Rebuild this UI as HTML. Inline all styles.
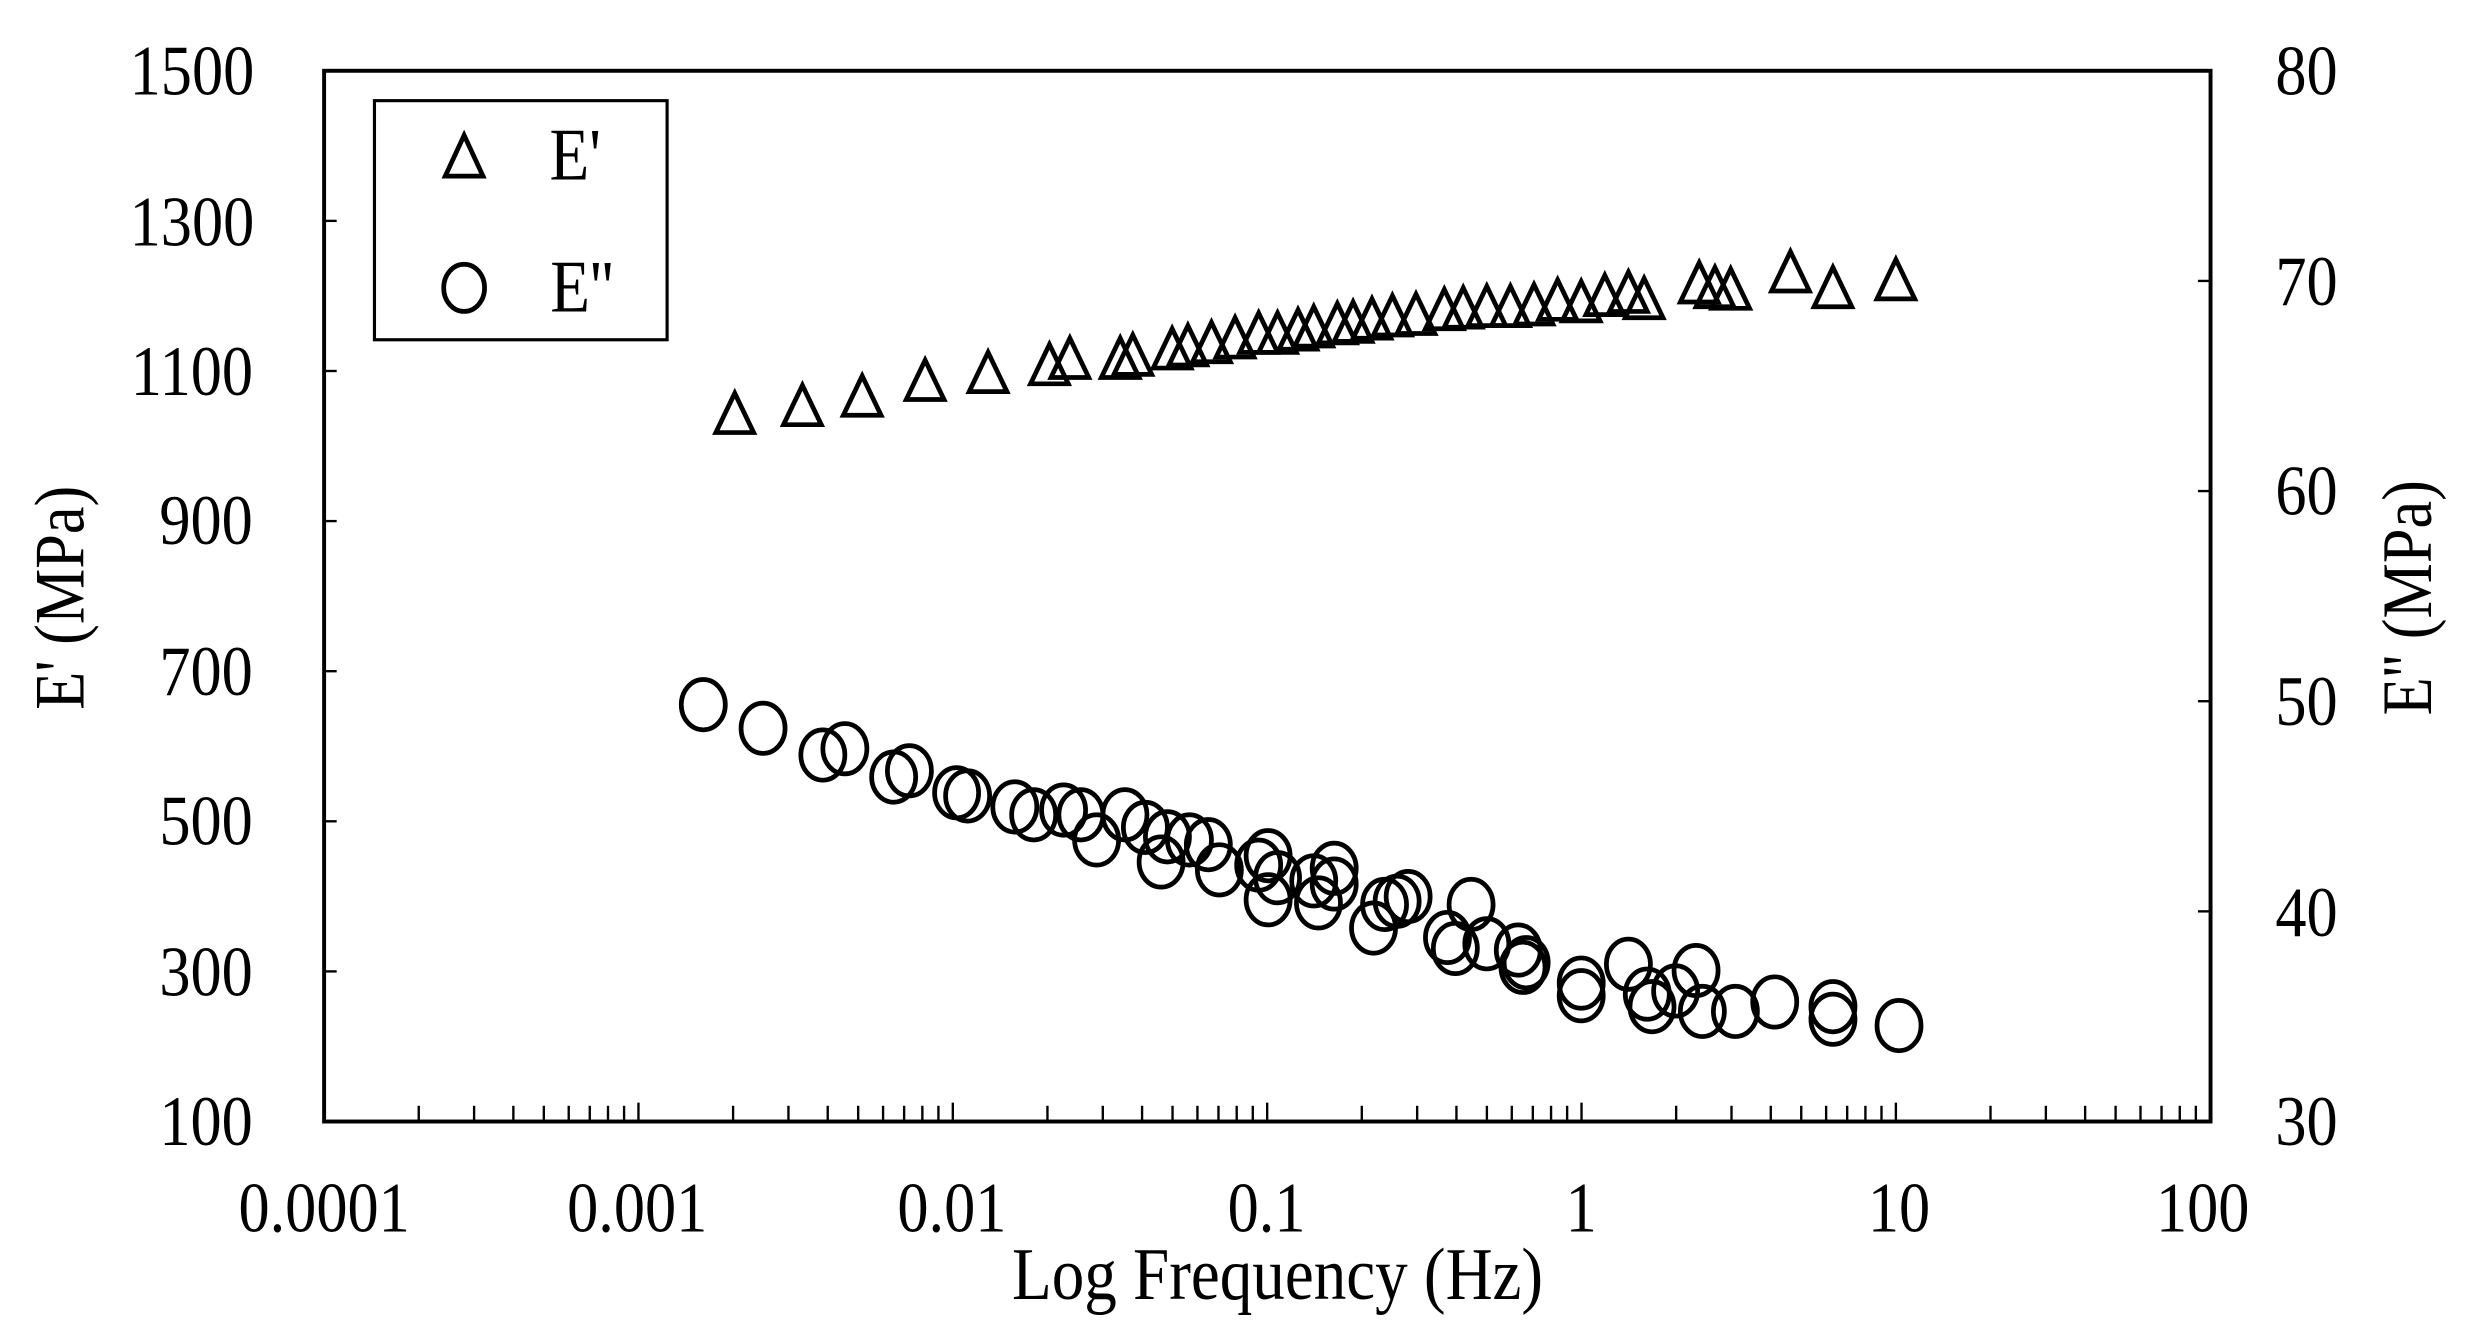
<!DOCTYPE html>
<html><head><meta charset="utf-8"><style>
html,body{margin:0;padding:0;background:#fff;}
svg{display:block;}
text{font-family:"Liberation Serif",serif;fill:#000;transform-box:fill-box;transform-origin:center;}
.c{transform:scaleX(0.88);}
</style></head><body>
<svg width="2467" height="1326" viewBox="0 0 1568 843" preserveAspectRatio="none" xmlns="http://www.w3.org/2000/svg">
<rect x="0" y="0" width="1568" height="843" fill="#fff"/>
<rect x="206" y="45" width="1199" height="668" fill="none" stroke="#000" stroke-width="2.5"/>
<g id="xt" stroke="#000" stroke-width="1.5"></g>
<g id="yt" stroke="#000" stroke-width="1.5"></g>
<g font-size="45" text-anchor="middle">
<text class="c" x="206" y="783">0.0001</text>
<text class="c" x="405" y="783">0.001</text>
<text class="c" x="605" y="783">0.01</text>
<text class="c" x="805" y="783">0.1</text>
<text class="c" x="1005" y="783">1</text>
<text class="c" x="1207" y="783">10</text>
<text class="c" x="1400" y="783">100</text>
</g>
<g font-size="45" text-anchor="middle">
<text class="c" x="122" y="60">1500</text>
<text class="c" x="122" y="156">1300</text>
<text class="c" x="122" y="251">1100</text>
<text class="c" x="131" y="346">900</text>
<text class="c" x="131" y="442">700</text>
<text class="c" x="131" y="537">500</text>
<text class="c" x="131" y="633">300</text>
<text class="c" x="131" y="728">100</text>
</g>
<g font-size="45" text-anchor="middle">
<text class="c" x="1466" y="60">80</text>
<text class="c" x="1466" y="194">70</text>
<text class="c" x="1466" y="327">60</text>
<text class="c" x="1466" y="461">50</text>
<text class="c" x="1466" y="595">40</text>
<text class="c" x="1466" y="728">30</text>
</g>
<text class="c" x="812" y="826" font-size="47" text-anchor="middle">Log Frequency (Hz)</text>
<g transform="translate(53,380) rotate(-90)"><text class="c" x="0" y="0" font-size="45" text-anchor="middle">E' (MPa)</text></g>
<g transform="translate(1545,380) rotate(-90)"><text class="c" x="0" y="0" font-size="45" text-anchor="middle">E'' (MPa)</text></g>
<rect x="238" y="64" width="186" height="152" fill="#fff" stroke="#000" stroke-width="2"/>
<polygon points="295,86 283,112 307,112" fill="none" stroke="#000" stroke-width="3"/>
<ellipse cx="295" cy="183" rx="13" ry="15" fill="none" stroke="#000" stroke-width="3"/>
<text class="c" x="347" y="114" font-size="47">E'</text>
<text class="c" x="347" y="198" font-size="47">E''</text>
<g id="tri" fill="none" stroke="#000" stroke-width="3"></g>
<g id="cir" fill="none" stroke="#000" stroke-width="3"></g>
<script>
var ns="http://www.w3.org/2000/svg";
function el(p,n,a){var e=document.createElementNS(ns,n);for(var k in a)e.setAttribute(k,a[k]);p.appendChild(e);}
var xt=document.getElementById('xt');
for(var d=0;d<6;d++){for(var m=2;m<=10;m++){var x=206+199.8*(d+Math.log10(m));var h=(m==10)?12:10;el(xt,'line',{x1:x,y1:713,x2:x,y2:713-h});}}
var yt=document.getElementById('yt');
for(var i=1;i<7;i++){var y=713-i*95.43;el(yt,'line',{x1:206,y1:y,x2:214,y2:y});}
for(var i=1;i<5;i++){var y=713-i*133.6;el(yt,'line',{x1:1405,y1:y,x2:1397,y2:y});}
var T=[[467,263],[510,258],[548,252],[588,242],[628,237],[667,232],[680,228],[712,228],[720,226],[745,222],[755,220],[770,218],[785,215],[800,212],[812,212],[825,210],[835,208],[850,206],[860,205],[872,203],[885,201],[900,200],[918,197],[930,196],[945,195],[960,195],[975,194],[990,191],[1005,192],[1020,188],[1035,186],[1045,190],[1080,180],[1090,183],[1100,184],[1138,173],[1165,183],[1205,178]];
var tg=document.getElementById('tri');
T.forEach(function(p){var x=p[0],y=p[1];el(tg,'polygon',{points:(x)+','+(y-13)+' '+(x-12)+','+(y+12)+' '+(x+12)+','+(y+12)});});
var C=[[447,448],[485,463],[523,480],[537,476],[568,494],[578,490],[608,504],[615,506],[645,513],[657,518],[676,515],[687,518],[697,534],[715,518],[728,526],[738,548],[742,532],[756,534],[768,537],[775,553],[800,550],[806,544],[806,572],[812,558],[835,560],[838,574],[848,552],[848,562],[873,590],[880,575],[888,573],[895,570],[920,596],[925,603],[935,575],[945,600],[965,604],[968,615],[970,612],[1005,625],[1005,633],[1035,613],[1047,632],[1050,640],[1065,630],[1078,617],[1082,643],[1103,643],[1128,637],[1165,640],[1165,648],[1207,652]];
var cg=document.getElementById('cir');
C.forEach(function(p){el(cg,'ellipse',{cx:p[0],cy:p[1],rx:14,ry:16});});
</script>
</svg>
</body></html>
